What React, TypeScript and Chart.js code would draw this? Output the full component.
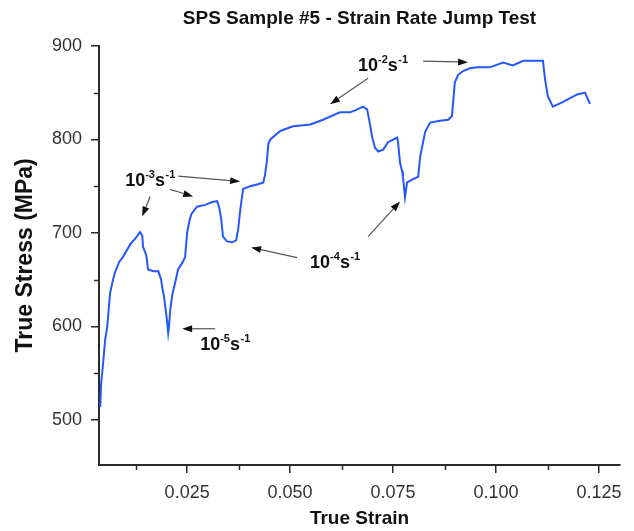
import React, { useEffect, useRef } from 'react';
import { Chart, registerables } from 'chart.js';

Chart.register(...registerables);

// ---- data ----
const strain = [
  0.0039, 0.0041, 0.0046, 0.0051, 0.0056, 0.0063, 0.007, 0.0075, 0.0085, 0.0095,
  0.0112, 0.0124, 0.0136, 0.0141, 0.0143, 0.0151, 0.0155, 0.0168, 0.018, 0.0187,
  0.0189, 0.0194, 0.0197, 0.0201, 0.0204, 0.0206, 0.0209, 0.0214, 0.0221, 0.0228,
  0.0238, 0.0245, 0.025, 0.0255, 0.026, 0.0274, 0.0294, 0.0311, 0.0323, 0.0328,
  0.0333, 0.0337, 0.0347, 0.0359, 0.0369, 0.0374, 0.0379, 0.0386, 0.0403, 0.0422,
  0.0435, 0.0439, 0.0444, 0.0447, 0.0452, 0.0476, 0.0507, 0.0532, 0.0549, 0.058,
  0.0621, 0.0646, 0.0658, 0.0677, 0.0687, 0.0694, 0.0699, 0.0706, 0.0714, 0.0726,
  0.0738, 0.076, 0.0762, 0.0767, 0.0772, 0.0774, 0.0779, 0.0784, 0.0796, 0.0811,
  0.0816, 0.0828, 0.084, 0.0864, 0.0884, 0.0893, 0.09, 0.0908, 0.092, 0.0937,
  0.0954, 0.0985, 0.1017, 0.1041, 0.1066, 0.1107, 0.1114, 0.1119, 0.1126, 0.1138,
  0.1163, 0.1197, 0.1216, 0.1223, 0.1228,
];
const stress = [
  514, 538, 561, 586, 600, 636, 650, 658, 669, 675,
  688, 694, 701, 697, 685, 676, 661, 659, 659, 650,
  643, 632, 621, 607, 593, 600, 618, 634, 647, 661,
  668, 674, 700, 712, 720, 728, 730, 733, 734, 727,
  714, 696, 691, 690, 692, 704, 725, 747, 750, 752,
  754, 762, 778, 795, 800, 809, 814, 815, 816, 821,
  829, 829, 831, 835, 832, 816, 803, 791, 787, 789,
  797, 802, 797, 775, 766, 760, 738, 754, 757, 760,
  782, 808, 818, 820, 821, 825, 861, 869, 873, 876,
  877, 877, 882, 879, 884, 884, 884, 864, 846, 835,
  840, 848, 850, 843, 838,
];

const xTicks = [0.025, 0.05, 0.075, 0.1, 0.125];
const xMinorTicks = [0.0125, 0.0375, 0.0625, 0.0875, 0.1125];
const yTicks = [500, 600, 700, 800, 900];
const yMinorTicks = [550, 650, 750, 850];

// strain-rate labels: exponent, anchor (strain, stress) at left baseline
const rateExponents = ['-3', '-5', '-4', '-2'];
const rateLabelX = [0.00995, 0.02816, 0.05485, 0.0665];
const rateLabelY = [749.7, 575, 662.9, 872.9];

// arrows: [fromStrain, fromStress, toStrain, toStress]
const arrows: number[][] = [
  [0.01602, 739, 0.01408, 717.5],
  [0.02087, 746.5, 0.02646, 739],
  [0.02282, 760.7, 0.03786, 755],
  [0.0318, 597.6, 0.02379, 597.6],
  [0.0517, 673.7, 0.04053, 684.4],
  [0.06893, 696.1, 0.0767, 733.6],
  [0.08228, 883.6, 0.0932, 882.5],
  [0.06893, 865.4, 0.05971, 837.5],
];

const FAMILY = "'Liberation Sans', Arial, Helvetica, sans-serif";
const AXIS_COLOR = '#2b2b2b';
const LINE_COLOR = '#2458ff';

const annotationPlugin = {
  id: 'rateAnnotations',
  afterDraw(chart: any) {
    const { ctx, chartArea } = chart;
    const xs = chart.scales.x;
    const ys = chart.scales.y;
    ctx.save();
    // minor ticks
    ctx.strokeStyle = AXIS_COLOR;
    ctx.lineWidth = 1.5;
    xMinorTicks.forEach((v) => {
      const px = Math.round(xs.getPixelForValue(v)) + 0.5;
      ctx.beginPath();
      ctx.moveTo(px, chartArea.bottom);
      ctx.lineTo(px, chartArea.bottom + 5);
      ctx.stroke();
    });
    yMinorTicks.forEach((v) => {
      const py = Math.round(ys.getPixelForValue(v)) + 0.5;
      ctx.beginPath();
      ctx.moveTo(chartArea.left, py);
      ctx.lineTo(chartArea.left - 5, py);
      ctx.stroke();
    });

    // arrows
    arrows.forEach(([fx, fy, tx, ty]) => {
      const x1 = xs.getPixelForValue(fx);
      const y1 = ys.getPixelForValue(fy);
      const x2 = xs.getPixelForValue(tx);
      const y2 = ys.getPixelForValue(ty);
      const ang = Math.atan2(y2 - y1, x2 - x1);
      const hl = 10;
      const hw = 3.5;
      const bx = x2 - hl * Math.cos(ang);
      const by = y2 - hl * Math.sin(ang);
      ctx.strokeStyle = '#555';
      ctx.lineWidth = 1.2;
      ctx.beginPath();
      ctx.moveTo(x1, y1);
      ctx.lineTo(bx, by);
      ctx.stroke();
      ctx.fillStyle = '#111';
      ctx.beginPath();
      ctx.moveTo(x2, y2);
      ctx.lineTo(bx + hw * Math.sin(ang), by - hw * Math.cos(ang));
      ctx.lineTo(bx - hw * Math.sin(ang), by + hw * Math.cos(ang));
      ctx.closePath();
      ctx.fill();
    });

    // labels
    ctx.fillStyle = '#111';
    ctx.textAlign = 'left';
    ctx.textBaseline = 'alphabetic';
    rateExponents.forEach((exp, i) => {
      let cx = xs.getPixelForValue(rateLabelX[i]);
      const cy = ys.getPixelForValue(rateLabelY[i]);
      const big = `bold 18px ${FAMILY}`;
      const small = `bold 11px ${FAMILY}`;
      ctx.font = big;
      ctx.fillText('10', cx, cy);
      cx += ctx.measureText('10').width;
      ctx.font = small;
      ctx.fillText(exp, cx, cy - 8);
      cx += ctx.measureText(exp).width;
      ctx.font = big;
      ctx.fillText('s', cx, cy);
      cx += ctx.measureText('s').width + 0.5;
      ctx.font = small;
      ctx.fillText('-1', cx, cy - 8);
    });
    ctx.restore();
  },
};

export default function App() {
  const ref = useRef<HTMLCanvasElement>(null);

  useEffect(() => {
    const canvas = ref.current;
    if (!canvas) return;
    const points = strain.map((s, i) => ({ x: s, y: stress[i] }));
    const tickFont = { family: FAMILY, size: 18 };
    const chart = new Chart(canvas, {
      type: 'line',
      data: {
        datasets: [
          {
            data: points,
            borderColor: LINE_COLOR,
            borderWidth: 2,
            pointRadius: 0,
            tension: 0,
            fill: false,
          },
        ],
      },
      options: {
        responsive: false,
        animation: false,
        devicePixelRatio: 1,
        layout: { padding: { left: 0, right: 14, top: 0, bottom: 0 } },
        plugins: {
          legend: { display: false },
          tooltip: { enabled: false },
          title: {
            display: true,
            text: 'SPS Sample #5 - Strain Rate Jump Test',
            fullSize: false,
            color: '#111',
            font: { family: FAMILY, size: 19, weight: 'bold' },
            padding: { top: 7, bottom: 16 },
          },
        },
        scales: {
          x: {
            type: 'linear',
            min: 0.0036,
            max: 0.1301,
            afterBuildTicks: (s: any) => {
              s.ticks = xTicks.map((v) => ({ value: v }));
            },
            afterFit: (s: any) => {
              s.height = 66;
              s.paddingLeft = 0;
              s.paddingRight = 0;
            },
            ticks: {
              autoSkip: false,
              maxRotation: 0,
              padding: 9,
              color: '#333',
              font: tickFont,
              callback: (v: any) => Number(v).toFixed(3),
            },
            grid: {
              drawOnChartArea: false,
              tickLength: 8,
              color: AXIS_COLOR,
              lineWidth: 1.5,
            },
            border: { color: AXIS_COLOR, width: 2 },
            title: {
              display: true,
              text: 'True Strain',
              color: '#111',
              font: { family: FAMILY, size: 19, weight: 'bold' },
              padding: { top: 0, bottom: 1 },
            },
          },
          y: {
            type: 'linear',
            min: 452,
            max: 900,
            afterBuildTicks: (s: any) => {
              s.ticks = yTicks.map((v) => ({ value: v }));
            },
            afterFit: (s: any) => {
              s.width = 99;
              s.paddingTop = 0;
              s.paddingBottom = 0;
            },
            ticks: {
              autoSkip: false,
              padding: 9,
              color: '#333',
              font: tickFont,
              callback: (v: any) => String(v),
            },
            grid: {
              drawOnChartArea: false,
              tickLength: 8,
              color: AXIS_COLOR,
              lineWidth: 1.5,
            },
            border: { color: AXIS_COLOR, width: 2 },
            title: {
              display: true,
              text: 'True Stress (MPa)',
              color: '#111',
              font: { family: FAMILY, size: 23, weight: 'bold' },
              padding: { top: 12, bottom: 0 },
            },
          },
        },
      },
      plugins: [annotationPlugin],
    } as any);
    return () => chart.destroy();
  }, []);

  return (
    <div style={{ position: 'absolute', left: 0, top: 0, width: 634, height: 531, background: '#fff' }}>
      <canvas ref={ref} width={634} height={531} style={{ display: 'block' }} />
    </div>
  );
}
